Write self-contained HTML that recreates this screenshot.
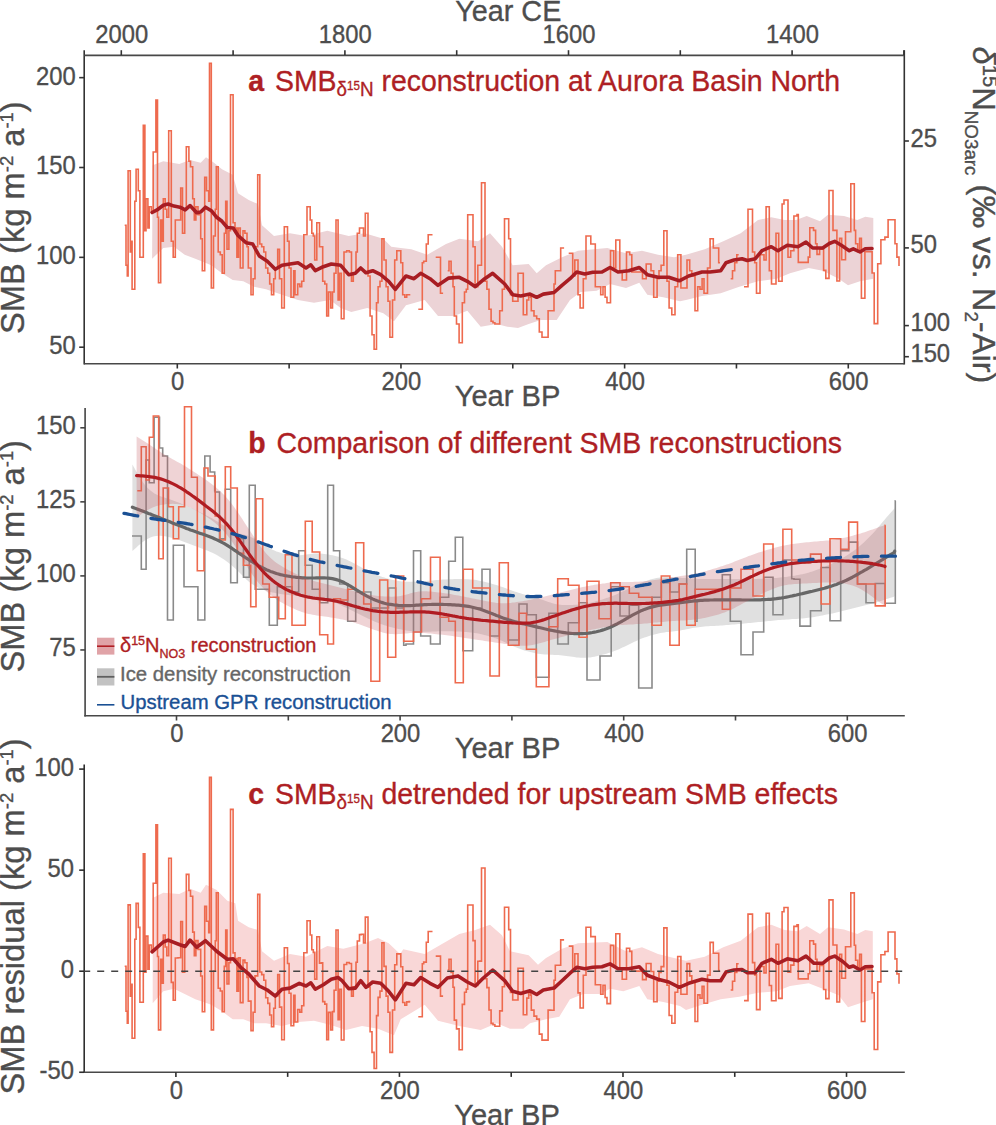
<!DOCTYPE html>
<html><head><meta charset="utf-8"><style>
html,body{margin:0;padding:0;background:#fff;}
svg{display:block;font-family:"Liberation Sans",sans-serif;}
text{stroke-width:0.35px;paint-order:stroke;stroke-linejoin:round;}
</style></head><body>
<svg width="996" height="1125" viewBox="0 0 996 1125">
<rect width="996" height="1125" fill="#fff"/>
<polygon points="152.7,165.3 163.3,161.3 179.3,164.0 190.0,160.0 200.7,162.7 206.0,157.3 214.0,162.7 222.0,169.3 232.7,174.7 238.0,193.3 248.7,200.0 258.0,204.0 262.0,225.3 274.0,236.0 290.0,233.3 306.0,236.0 327.3,230.7 348.7,236.0 364.7,233.3 383.3,238.7 391.3,246.7 400.7,248.0 411.3,249.3 427.3,254.7 446.0,244.0 459.3,238.7 478.0,241.3 490.0,233.3 502.0,246.7 512.7,265.3 528.7,264.0 536.7,273.3 546.0,265.3 562.0,257.3 578.0,250.7 607.3,248.0 626.0,253.3 642.0,250.7 658.0,254.7 674.0,257.3 686.0,254.7 704.7,249.3 723.3,241.3 740.7,233.3 758.0,220.0 771.3,217.3 784.7,220.0 796.0,220.0 806.7,216.0 820.0,221.3 828.0,214.7 844.0,216.0 857.3,220.0 865.3,216.8 873.3,217.9 873.3,278.7 860.0,281.3 848.0,285.3 838.7,278.7 822.7,270.7 808.7,268.0 790.0,273.3 776.7,278.7 758.0,281.3 739.3,286.7 720.7,293.3 702.0,296.0 686.0,300.0 680.0,301.3 663.3,297.3 647.3,294.7 639.3,282.7 626.0,288.0 610.0,284.0 596.7,290.7 580.7,292.0 570.0,300.0 556.7,320.0 540.7,320.0 528.7,324.0 518.0,328.0 507.3,326.7 496.7,324.0 480.7,326.7 467.3,310.7 454.0,316.0 438.0,316.0 424.7,300.0 406.0,305.3 394.0,321.3 383.3,313.3 367.3,308.0 351.3,312.0 340.7,308.0 330.0,300.0 314.0,302.7 298.0,300.0 282.0,294.7 266.0,289.3 254.0,286.7 243.3,281.3 232.7,280.0 222.0,273.3 211.3,265.3 195.3,258.7 184.7,254.7 174.0,246.7 163.3,248.0 152.1,258.7" fill="#ecd3d6" stroke="none" />
<path d="M124.7,225.3H126.0V265.3H127.3V276.0H128.1V170.7H130.3V252.0H131.3V241.3H132.1V289.3H134.8V201.3H136.1V169.3H138.3V190.7H139.9V257.3H142.0V257.3H143.3V125.3H144.9V230.7H146.0V198.7H147.9V228.0H149.2V206.7H151.3V212.0H153.2V152.0H155.9V100.0H157.5V217.3H158.5V282.7H160.7V220.0H162.0V241.3H163.3V198.7H165.2V209.3H166.8V217.3H168.7V130.7H171.3V241.3H173.2V257.3H175.3V220.0H178.0V220.0H180.7V188.0H182.5V233.3H184.7V209.3H186.3V146.7H188.9V161.3H190.5V166.7H192.7V198.7H194.3V220.0H195.9V206.7H198.0V214.7H200.7V238.7H202.3V270.7H204.7V177.3H206.5V190.7H208.7V201.3H209.5V63.2H211.3V288.0H213.5V236.0H215.3V209.3H216.3V166.7H218.2V252.0H220.3V254.7H222.2V273.3H224.3V233.3H225.7V201.3H227.0V249.3H228.9V230.7H230.5V94.7H233.1V222.7H235.0V228.0H236.9V257.3H238.5V228.0H240.3V268.0H243.0V230.7H244.9V233.3H247.0V246.7H248.3V268.0H251.0V294.7H253.1V278.7H255.0V246.7H257.7V174.7H259.8V244.0H261.7V246.7H263.8V252.0H265.7V268.0H267.8V273.3H269.7V284.0H271.5V294.7H273.7V278.7H275.3V268.0H277.7V249.3H279.5V278.7H281.7V308.0H284.3V226.7H287.5V241.3H289.1V268.0H291.0V297.3H293.7V270.7H295.0V294.7H297.7V284.0H299.8V286.7H301.7V281.3H303.8V234.7H307.0V206.7H310.2V220.0H311.8V233.3H313.3V236.0H314.7V260.0H316.8V222.7H319.5V246.7H321.3V246.7H322.7V281.3H324.8V284.0H326.7V316.0H328.5V292.0H330.7V308.0H332.5V292.0H334.1V273.3H336.0V220.0H338.1V300.0H339.5V273.3H341.3V318.7H344.0V252.0H346.7V250.7H349.3V252.0H351.5V281.3H353.3V273.3H356.0V252.0H357.3V233.3H359.5V228.0H361.3V228.0H363.5V236.0H365.3V213.3H368.0V276.0H370.1V316.0H372.0V334.7H374.1V349.3H376.5V302.7H378.1V286.7H380.0V281.3H381.9V238.7H384.0V260.0H386.1V286.7H388.0V301.3H389.9V337.3H392.5V300.0H394.7V260.0H396.8V250.7H400.8V262.7H402.7V294.7H404.8V297.3H406.7V294.7H409.0V294.7H410.3M418.3,309.3H422.3V262.7H423.7V261.3H426.3V244.0H428.2V234.7H432.5M435.7,257.3H440.5V293.3H443.1M447.7,270.7H449.0V261.3H451.1V273.3H453.0V286.7H454.3V316.0H456.5V324.0H459.1V342.7H462.3V302.7H464.5V292.0H466.3V289.3H467.7V214.7H473.0V246.7H475.1V286.7H477.8V265.3H479.7V265.3H481.5V182.7H485.0V281.3H486.9V289.3H489.0V309.3H491.1V321.3H493.0V322.7H494.9V324.0H499.7V310.7H502.3V289.3H504.5V218.7H506.8V218.7H508.7V238.7H510.5V294.7H512.7V301.3H518.0V273.3H523.3V314.7H526.8V300.0H528.7V294.7H530.5V297.3H531.3V310.7H534.0V316.0H536.7V318.7H539.3V332.0H542.0V337.3H548.1V310.7H550.8V310.7H554.0V284.0H555.3V270.7H558.0V270.7H560.7V248.0H564.1M568.7,253.3H572.7V276.0H574.8V260.0H578.0V294.7H580.1V308.0H583.3V278.7H586.0V236.0H590.8V244.0H595.3V286.7H600.7V294.7H603.0V286.7H605.1V297.3H607.0V302.7H610.5V250.7H613.7V268.0H615.8V240.0H619.8V270.7H622.2V280.0H626.5V252.0H629.7V254.7H631.8V272.0H642.5V278.7H646.2V264.0H651.0V270.7H653.7V297.3H657.1V278.7H659.0V270.7H661.1V265.3H663.8V230.7H667.0V281.3H669.1V308.0H671.8V314.7H675.0V286.7H677.7V254.7H680.9V288.0H687.0V260.0H689.7V270.7H691.8V276.0H695.0V310.7H697.7V286.7H700.0V289.3H702.1V278.7H704.0V293.3H707.5V268.0H710.1V238.7H713.3V248.0H718.7V262.7H720.0M730.7,278.7H732.5V270.7H734.7V262.7H736.8V254.7H738.7M744.0,286.7H748.0V209.3H752.5V252.0H754.7V262.7H756.5V293.3H760.0V254.7H764.0V260.0H766.1V206.7H769.3V270.7H771.5V284.0H776.0V233.3H778.7V281.3H782.1V204.0H784.0V200.0H788.0V257.3H790.7V250.7H793.9V216.0H797.0V214.5H798.3V262.4H808.2V257.1H809.8V227.8H813.5V230.4H815.6V243.8H817.0V254.4H819.6V249.1H823.6V270.4H825.8V278.4H829.0V190.5H833.0V230.4H836.9V281.0H839.6V238.4H841.7V259.7H845.5V231.8H850.8V183.8H854.3V230.4H855.6V243.8H857.7V251.7H859.6V238.4H861.4V298.3H864.9V251.7H872.1V273.0H874.2V323.6H877.7V263.7H880.9V239.8H884.9V237.1H888.1V219.8H895.0V243.8H896.9V257.1H899.0V265.1H899.8" fill="none" stroke="#ee6a4e" stroke-width="1.6"/>
<polyline points="152.1,212.5 158.0,209.3 163.3,205.3 168.1,204.0 174.0,206.1 179.9,207.2 185.2,209.9 190.0,205.6 196.7,212.8 200.7,212.0 205.5,207.2 211.3,210.7 216.7,217.3 222.0,221.3 227.3,227.5 233.2,228.0 238.0,235.5 246.0,242.7 252.7,244.0 259.3,256.0 267.3,261.3 275.3,269.3 282.0,265.3 290.0,264.0 298.0,262.7 306.0,268.0 310.8,264.8 315.3,270.7 323.3,266.7 331.3,264.0 340.7,265.3 348.7,274.7 355.3,273.3 360.7,268.0 366.0,272.8 372.7,270.7 380.7,274.7 388.7,281.3 395.3,289.3 406.0,276.0 414.0,278.7 420.7,273.3 430.0,278.7 438.0,285.3 448.7,278.1 459.3,277.3 467.3,281.3 475.3,286.7 484.7,278.7 492.7,273.3 504.7,284.0 512.7,294.7 520.7,296.0 530.0,294.1 536.7,297.3 543.3,294.1 554.0,292.5 562.0,285.3 570.0,278.7 576.7,272.0 584.7,273.9 592.7,272.3 602.0,272.0 610.0,267.5 618.0,272.0 628.7,270.7 639.3,267.5 647.3,274.7 658.0,277.3 668.7,277.3 679.3,280.8 688.7,276.0 702.0,272.0 710.0,272.0 720.7,270.7 726.0,262.7 734.0,260.0 742.0,258.7 747.3,260.5 755.3,258.7 762.0,250.7 771.3,246.7 778.0,250.7 787.3,245.3 798.0,246.7 806.0,242.1 812.7,248.0 822.7,248.0 829.3,243.5 834.7,241.3 841.3,245.3 849.3,250.7 853.3,248.8 860.0,252.0 865.3,248.8 872.0,248.5" fill="none" stroke="#a81d23" stroke-width="3.6" stroke-linejoin="round" stroke-linecap="round" />
<polygon points="132.4,464.4 134.4,468.1 136.4,471.8 138.4,475.3 140.4,478.6 142.4,481.6 144.4,484.3 146.4,486.7 148.4,488.8 150.4,490.6 152.4,492.1 154.4,493.4 156.4,494.5 158.4,495.4 160.4,496.2 162.4,496.9 164.4,497.6 166.4,498.2 168.4,498.8 170.4,499.5 172.4,500.2 174.4,500.9 176.4,501.7 178.4,502.5 180.4,503.3 182.4,504.2 184.4,505.0 186.4,505.9 188.4,506.8 190.4,507.7 192.4,508.6 194.4,509.5 196.4,510.5 198.4,511.4 200.4,512.4 202.4,513.4 204.4,514.4 206.4,515.4 208.4,516.4 210.4,517.5 212.4,518.6 214.4,519.7 216.4,520.9 218.4,522.1 220.4,523.4 222.4,524.7 224.4,526.0 226.4,527.3 228.4,528.6 230.4,529.7 232.4,530.8 234.4,531.7 236.4,532.5 238.4,533.2 240.4,533.7 242.4,534.2 244.4,534.7 246.4,535.3 248.4,535.9 250.4,536.7 252.4,537.7 254.4,538.8 256.4,540.1 258.4,541.4 260.4,542.8 262.4,544.2 264.4,545.5 266.4,546.7 268.4,547.8 270.4,548.8 272.4,549.8 274.4,550.6 276.4,551.4 278.4,552.1 280.4,552.7 282.4,553.4 284.4,553.9 286.4,554.4 288.4,554.9 290.4,555.2 292.4,555.4 294.4,555.5 296.4,555.5 298.4,555.4 300.4,555.3 302.4,555.0 304.4,554.8 306.4,554.5 308.4,554.3 310.4,554.0 312.4,553.8 314.4,553.6 316.4,553.5 318.4,553.5 320.4,553.5 322.4,553.7 324.4,553.9 326.4,554.2 328.4,554.5 330.4,554.9 332.4,555.3 334.4,555.8 336.4,556.3 338.4,556.8 340.4,557.4 342.4,558.1 344.4,558.8 346.4,559.6 348.4,560.5 350.4,561.5 352.4,562.5 354.4,563.5 356.4,564.6 358.4,565.7 360.4,566.8 362.4,567.9 364.4,569.0 366.4,570.0 368.4,571.0 370.4,572.0 372.4,573.0 374.4,573.9 376.4,574.7 378.4,575.5 380.4,576.3 382.4,577.0 384.4,577.6 386.4,578.2 388.4,578.8 390.4,579.3 392.4,579.8 394.4,580.2 396.4,580.6 398.4,580.9 400.4,581.2 402.4,581.4 404.4,581.6 406.4,581.7 408.4,581.8 410.4,581.8 412.4,581.8 414.4,581.8 416.4,581.7 418.4,581.6 420.4,581.5 422.4,581.3 424.4,581.2 426.4,581.0 428.4,580.8 430.4,580.7 432.4,580.5 434.4,580.3 436.4,580.1 438.4,579.9 440.4,579.7 442.4,579.6 444.4,579.5 446.4,579.4 448.4,579.3 450.4,579.2 452.4,579.2 454.4,579.1 456.4,579.1 458.4,579.1 460.4,579.1 462.4,579.1 464.4,579.2 466.4,579.2 468.4,579.3 470.4,579.4 472.4,579.6 474.4,579.8 476.4,580.1 478.4,580.5 480.4,580.9 482.4,581.3 484.4,581.8 486.4,582.3 488.4,582.8 490.4,583.3 492.4,583.9 494.4,584.4 496.4,585.0 498.4,585.7 500.4,586.4 502.4,587.1 504.4,587.8 506.4,588.5 508.4,589.2 510.4,589.9 512.4,590.7 514.4,591.4 516.4,592.0 518.4,592.7 520.4,593.3 522.4,593.9 524.4,594.5 526.4,595.1 528.4,595.6 530.4,596.2 532.4,596.8 534.4,597.3 536.4,597.9 538.4,598.5 540.4,599.2 542.4,599.8 544.4,600.5 546.4,601.2 548.4,601.9 550.4,602.6 552.4,603.2 554.4,603.7 556.4,604.2 558.4,604.6 560.4,604.8 562.4,605.0 564.4,605.1 566.4,605.1 568.4,605.1 570.4,605.0 572.4,604.9 574.4,604.8 576.4,604.7 578.4,604.6 580.4,604.4 582.4,604.1 584.4,603.9 586.4,603.5 588.4,603.1 590.4,602.7 592.4,602.2 594.4,601.7 596.4,601.1 598.4,600.6 600.4,600.0 602.4,599.4 604.4,598.7 606.4,598.1 608.4,597.4 610.4,596.7 612.4,596.0 614.4,595.2 616.4,594.4 618.4,593.5 620.4,592.6 622.4,591.6 624.4,590.7 626.4,589.7 628.4,588.7 630.4,587.7 632.4,586.8 634.4,585.8 636.4,584.9 638.4,584.0 640.4,583.1 642.4,582.3 644.4,581.6 646.4,580.9 648.4,580.2 650.4,579.6 652.4,579.1 654.4,578.6 656.4,578.1 658.4,577.7 660.4,577.4 662.4,577.2 664.4,577.1 666.4,577.0 668.4,577.0 670.4,577.1 672.4,577.2 674.4,577.3 676.4,577.5 678.4,577.6 680.4,577.8 682.4,577.9 684.4,578.1 686.4,578.2 688.4,578.3 690.4,578.5 692.4,578.6 694.4,578.7 696.4,578.8 698.4,578.9 700.4,579.0 702.4,579.0 704.4,579.0 706.4,579.1 708.4,579.1 710.4,579.1 712.4,579.1 714.4,579.1 716.4,579.1 718.4,579.1 720.4,579.1 722.4,579.1 724.4,579.1 726.4,579.1 728.4,579.1 730.4,579.1 732.4,579.1 734.4,579.1 736.4,579.1 738.4,579.1 740.4,579.1 742.4,579.1 744.4,579.1 746.4,579.1 748.4,579.1 750.4,579.0 752.4,579.0 754.4,579.0 756.4,578.9 758.4,578.8 760.4,578.7 762.4,578.7 764.4,578.6 766.4,578.5 768.4,578.4 770.4,578.3 772.4,578.2 774.4,578.0 776.4,577.9 778.4,577.7 780.4,577.6 782.4,577.3 784.4,577.1 786.4,576.9 788.4,576.6 790.4,576.3 792.4,576.0 794.4,575.7 796.4,575.3 798.4,575.0 800.4,574.6 802.4,574.2 804.4,573.8 806.4,573.3 808.4,572.7 810.4,572.1 812.4,571.5 814.4,570.8 816.4,570.1 818.4,569.3 820.4,568.5 822.4,567.7 824.4,566.9 826.4,566.1 828.4,565.2 830.4,564.4 832.4,563.4 834.4,562.5 836.4,561.5 838.4,560.4 840.4,559.3 842.4,558.1 844.4,556.9 846.4,555.7 848.4,554.4 850.4,553.1 852.4,551.8 854.4,550.3 856.4,548.9 858.4,547.3 860.4,545.6 862.4,543.8 864.4,542.0 866.4,540.1 868.4,538.1 870.4,536.0 872.4,533.9 874.4,531.7 876.4,529.4 878.4,527.1 880.4,524.7 882.4,522.3 884.4,519.9 886.4,517.5 888.4,515.2 890.4,512.9 892.4,510.7 894.4,508.5 894.7,506.4 894.7,595.9 894.4,596.5 892.4,597.2 890.4,597.8 888.4,598.5 886.4,599.1 884.4,599.8 882.4,600.5 880.4,601.1 878.4,601.7 876.4,602.3 874.4,602.9 872.4,603.5 870.4,604.0 868.4,604.6 866.4,605.1 864.4,605.6 862.4,606.1 860.4,606.6 858.4,607.1 856.4,607.6 854.4,608.1 852.4,608.6 850.4,609.1 848.4,609.6 846.4,610.1 844.4,610.6 842.4,611.1 840.4,611.5 838.4,612.0 836.4,612.5 834.4,612.9 832.4,613.4 830.4,613.8 828.4,614.2 826.4,614.6 824.4,615.0 822.4,615.4 820.4,615.8 818.4,616.2 816.4,616.6 814.4,616.9 812.4,617.3 810.4,617.6 808.4,617.8 806.4,618.1 804.4,618.3 802.4,618.5 800.4,618.6 798.4,618.8 796.4,618.9 794.4,619.0 792.4,619.1 790.4,619.3 788.4,619.4 786.4,619.5 784.4,619.7 782.4,619.8 780.4,620.0 778.4,620.1 776.4,620.3 774.4,620.5 772.4,620.7 770.4,620.9 768.4,621.1 766.4,621.3 764.4,621.5 762.4,621.7 760.4,621.9 758.4,622.1 756.4,622.3 754.4,622.5 752.4,622.7 750.4,622.9 748.4,623.1 746.4,623.3 744.4,623.5 742.4,623.7 740.4,623.9 738.4,624.1 736.4,624.3 734.4,624.4 732.4,624.6 730.4,624.8 728.4,625.0 726.4,625.1 724.4,625.3 722.4,625.4 720.4,625.5 718.4,625.7 716.4,625.8 714.4,625.9 712.4,626.0 710.4,626.1 708.4,626.2 706.4,626.3 704.4,626.5 702.4,626.7 700.4,626.9 698.4,627.2 696.4,627.4 694.4,627.8 692.4,628.1 690.4,628.5 688.4,628.9 686.4,629.3 684.4,629.7 682.4,630.1 680.4,630.4 678.4,630.7 676.4,631.0 674.4,631.2 672.4,631.4 670.4,631.7 668.4,631.9 666.4,632.1 664.4,632.4 662.4,632.7 660.4,633.1 658.4,633.5 656.4,634.0 654.4,634.5 652.4,635.0 650.4,635.6 648.4,636.2 646.4,636.9 644.4,637.6 642.4,638.3 640.4,639.1 638.4,640.0 636.4,640.9 634.4,641.8 632.4,642.8 630.4,643.7 628.4,644.7 626.4,645.7 624.4,646.7 622.4,647.6 620.4,648.5 618.4,649.4 616.4,650.3 614.4,651.1 612.4,651.8 610.4,652.5 608.4,653.1 606.4,653.7 604.4,654.2 602.4,654.8 600.4,655.3 598.4,655.8 596.4,656.2 594.4,656.7 592.4,657.0 590.4,657.4 588.4,657.6 586.4,657.8 584.4,657.8 582.4,657.8 580.4,657.7 578.4,657.6 576.4,657.4 574.4,657.1 572.4,656.8 570.4,656.6 568.4,656.3 566.4,656.0 564.4,655.8 562.4,655.5 560.4,655.3 558.4,655.1 556.4,655.0 554.4,654.9 552.4,654.8 550.4,654.7 548.4,654.6 546.4,654.5 544.4,654.4 542.4,654.2 540.4,654.0 538.4,653.7 536.4,653.4 534.4,653.0 532.4,652.6 530.4,652.1 528.4,651.6 526.4,651.0 524.4,650.4 522.4,649.8 520.4,649.1 518.4,648.3 516.4,647.5 514.4,646.7 512.4,645.8 510.4,644.9 508.4,643.9 506.4,643.0 504.4,642.0 502.4,641.1 500.4,640.2 498.4,639.4 496.4,638.6 494.4,637.9 492.4,637.2 490.4,636.6 488.4,636.0 486.4,635.5 484.4,635.0 482.4,634.5 480.4,634.0 478.4,633.6 476.4,633.2 474.4,632.9 472.4,632.6 470.4,632.4 468.4,632.2 466.4,632.0 464.4,631.9 462.4,631.7 460.4,631.6 458.4,631.5 456.4,631.4 454.4,631.4 452.4,631.3 450.4,631.2 448.4,631.2 446.4,631.2 444.4,631.2 442.4,631.2 440.4,631.3 438.4,631.3 436.4,631.4 434.4,631.5 432.4,631.6 430.4,631.7 428.4,631.7 426.4,631.8 424.4,631.8 422.4,631.9 420.4,631.8 418.4,631.8 416.4,631.6 414.4,631.5 412.4,631.3 410.4,631.0 408.4,630.7 406.4,630.4 404.4,630.1 402.4,629.7 400.4,629.3 398.4,628.9 396.4,628.4 394.4,627.9 392.4,627.4 390.4,626.9 388.4,626.4 386.4,625.8 384.4,625.2 382.4,624.6 380.4,623.9 378.4,623.1 376.4,622.3 374.4,621.5 372.4,620.6 370.4,619.6 368.4,618.7 366.4,617.7 364.4,616.7 362.4,615.7 360.4,614.7 358.4,613.7 356.4,612.7 354.4,611.7 352.4,610.7 350.4,609.8 348.4,608.8 346.4,607.8 344.4,606.9 342.4,605.9 340.4,605.0 338.4,604.1 336.4,603.2 334.4,602.3 332.4,601.5 330.4,600.6 328.4,599.8 326.4,599.0 324.4,598.3 322.4,597.7 320.4,597.2 318.4,596.8 316.4,596.5 314.4,596.3 312.4,596.1 310.4,596.0 308.4,596.0 306.4,595.9 304.4,595.9 302.4,595.9 300.4,595.8 298.4,595.8 296.4,595.7 294.4,595.6 292.4,595.5 290.4,595.3 288.4,595.1 286.4,594.8 284.4,594.6 282.4,594.3 280.4,593.9 278.4,593.6 276.4,593.2 274.4,592.8 272.4,592.4 270.4,592.0 268.4,591.5 266.4,590.9 264.4,590.2 262.4,589.5 260.4,588.7 258.4,587.8 256.4,586.8 254.4,585.6 252.4,584.3 250.4,582.9 248.4,581.2 246.4,579.4 244.4,577.5 242.4,575.5 240.4,573.5 238.4,571.5 236.4,569.6 234.4,567.7 232.4,566.0 230.4,564.3 228.4,562.7 226.4,561.2 224.4,559.8 222.4,558.5 220.4,557.2 218.4,556.0 216.4,554.8 214.4,553.8 212.4,552.8 210.4,551.9 208.4,551.0 206.4,550.2 204.4,549.4 202.4,548.7 200.4,547.9 198.4,547.2 196.4,546.4 194.4,545.7 192.4,544.9 190.4,544.2 188.4,543.4 186.4,542.7 184.4,541.9 182.4,541.2 180.4,540.5 178.4,539.8 176.4,539.1 174.4,538.5 172.4,537.9 170.4,537.4 168.4,536.9 166.4,536.5 164.4,536.2 162.4,535.9 160.4,535.8 158.4,535.8 156.4,536.0 154.4,536.3 152.4,536.8 150.4,537.5 148.4,538.4 146.4,539.5 144.4,540.8 142.4,542.3 140.4,543.9 138.4,545.6 136.4,547.4 134.4,549.2 132.4,551.1" fill="#a8a8a8" stroke="none" fill-opacity="0.36"/>
<path d="M132.0,536.0H141.3V569.3H146.1V460.0H149.3V482.7H154.1V417.3H159.5V448.0H162.7V456.0H167.5V620.0H173.3V545.3H184.0V586.7H197.9V620.0H204.8V456.0H210.1V472.0H214.7V490.7H215.2V492.0H219.5V538.7H225.3V489.3H230.7V582.7H237.3V538.7H243.5V577.3H249.3V485.3H255.2V589.3H269.3V625.3H277.3V586.7H292.0V592.0H298.7V550.7H305.3V565.3H309.0V565.3H312.2V589.3H319.7V602.7H327.7V485.3H333.5V550.7H339.7V584.0H347.7V621.3H355.7V592.0H370.9V608.0H388.5V588.0H395.7V608.0H403.7V645.3H406.0V644.0H413.5V550.7H420.7V636.0H430.5V644.0H440.1V597.3H448.7V561.3H455.3V537.3H462.8V650.7H472.7V608.0H482.0V569.3H490.0V636.0H499.3V594.7H503.0V594.7H508.3V640.0H519.0V604.0H527.0V614.7H536.3V677.3H548.9V613.3H557.7V644.0H568.3V622.7H579.0V602.7H587.0V680.0H600.0V656.0H611.2V586.7H620.0V616.0H629.3V605.3H638.7V688.0H652.0V597.3H661.3V582.7H669.9V592.0H679.2V584.0H686.7V549.3H695.2V621.3H697.0V600.0H722.3V574.7H730.3V621.3H741.0V654.7H753.0V632.0H763.7V577.3H773.0V614.7H782.9V560.0H791.7V578.7H794.0V579.2H799.9V626.1H810.5V610.7H821.2V567.5H830.0V620.8H840.7V550.7H848.7V542.1H857.5V584.0H866.0V602.7H875.3V583.5H885.2V603.2H895.3V500.8H895.6" fill="none" stroke="#8a8a8a" stroke-width="1.6"/>
<path d="M137.3,490.7H141.3V446.7H146.1V480.0H149.3V437.3H153.3V416.0H158.7V558.7H163.2V488.0H168.5V506.7H173.3V538.7H178.7V506.7H184.5V406.7H191.5V477.3H197.3V570.7H204.0V468.0H208.0V476.0H212.0V476.0H215.2V516.0H220.0V540.0H225.3V466.7H230.7V488.0H237.3V553.3H243.5V565.3H250.7V606.7H256.0V498.7H262.7V584.0H269.3V597.3H278.7V618.7H285.3V554.7H292.0V625.3H305.3V521.3H309.0V521.3H312.2V552.0H319.7V634.7H327.7V644.0H333.5V598.7H340.5V600.0H347.7V589.3H355.7V542.7H363.7V604.0H370.9V681.3H379.7V580.0H387.7V657.3H395.7V576.0H403.7V641.3H406.0V641.3H413.5V632.0H421.5V598.7H430.5V557.3H440.1V617.3H448.7V621.3H455.3V682.7H463.3V569.3H472.7V588.0H483.3V588.0H490.0V676.0H499.3V562.7H503.0V562.7H508.3V645.3H519.0V613.3H526.5V649.3H536.3V686.7H548.9V626.7H557.7V578.7H568.3V585.3H579.0V637.3H587.0V581.3H599.0V618.7H600.0V618.7H610.7V582.7H620.0V586.7H629.3V593.3H638.7V597.3H652.0V625.3H661.3V576.0H669.9V645.3H679.2V584.0H686.7V625.3H695.2V589.3H697.0V589.3H722.3V609.3H730.3V588.0H741.0V569.3H753.0V596.0H763.7V544.0H773.0V562.7H782.9V529.3H791.7V560.0H794.0V560.0H800.7V562.7H810.5V554.1H821.2V604.0H830.0V538.7H840.7V549.3H848.7V522.1H857.5V584.0H866.0V584.0H875.3V605.9H885.2V525.3H885.5" fill="none" stroke="#ee6a4e" stroke-width="1.6"/>
<polyline points="132.4,507.2 134.4,508.0 136.4,508.7 138.4,509.5 140.4,510.3 142.4,511.0 144.4,511.8 146.4,512.6 148.4,513.4 150.4,514.1 152.4,514.9 154.4,515.7 156.4,516.5 158.4,517.3 160.4,518.1 162.4,518.9 164.4,519.7 166.4,520.5 168.4,521.3 170.4,522.1 172.4,522.9 174.4,523.7 176.4,524.5 178.4,525.2 180.4,526.0 182.4,526.8 184.4,527.6 186.4,528.4 188.4,529.1 190.4,529.9 192.4,530.6 194.4,531.3 196.4,532.0 198.4,532.7 200.4,533.4 202.4,534.1 204.4,534.8 206.4,535.5 208.4,536.2 210.4,537.0 212.4,537.8 214.4,538.7 216.4,539.6 218.4,540.5 220.4,541.5 222.4,542.6 224.4,543.7 226.4,544.9 228.4,546.2 230.4,547.4 232.4,548.7 234.4,550.1 236.4,551.4 238.4,552.8 240.4,554.1 242.4,555.5 244.4,556.8 246.4,558.2 248.4,559.5 250.4,560.8 252.4,562.0 254.4,563.2 256.4,564.4 258.4,565.6 260.4,566.7 262.4,567.7 264.4,568.7 266.4,569.7 268.4,570.5 270.4,571.4 272.4,572.1 274.4,572.8 276.4,573.5 278.4,574.0 280.4,574.6 282.4,575.0 284.4,575.5 286.4,575.8 288.4,576.2 290.4,576.5 292.4,576.8 294.4,577.0 296.4,577.3 298.4,577.5 300.4,577.6 302.4,577.8 304.4,577.9 306.4,578.0 308.4,578.0 310.4,578.0 312.4,578.0 314.4,578.0 316.4,577.9 318.4,577.9 320.4,577.9 322.4,577.8 324.4,577.9 326.4,578.0 328.4,578.1 330.4,578.3 332.4,578.6 334.4,579.1 336.4,579.6 338.4,580.2 340.4,581.0 342.4,581.8 344.4,582.8 346.4,583.9 348.4,585.0 350.4,586.2 352.4,587.4 354.4,588.6 356.4,589.9 358.4,591.1 360.4,592.4 362.4,593.6 364.4,594.7 366.4,595.9 368.4,596.9 370.4,597.9 372.4,598.9 374.4,599.8 376.4,600.6 378.4,601.3 380.4,602.0 382.4,602.6 384.4,603.2 386.4,603.7 388.4,604.1 390.4,604.4 392.4,604.7 394.4,605.0 396.4,605.2 398.4,605.4 400.4,605.5 402.4,605.6 404.4,605.6 406.4,605.7 408.4,605.6 410.4,605.6 412.4,605.5 414.4,605.4 416.4,605.2 418.4,605.1 420.4,604.9 422.4,604.8 424.4,604.7 426.4,604.6 428.4,604.5 430.4,604.5 432.4,604.4 434.4,604.4 436.4,604.4 438.4,604.4 440.4,604.4 442.4,604.4 444.4,604.5 446.4,604.5 448.4,604.6 450.4,604.7 452.4,604.8 454.4,604.9 456.4,605.1 458.4,605.2 460.4,605.4 462.4,605.6 464.4,605.8 466.4,606.1 468.4,606.4 470.4,606.8 472.4,607.2 474.4,607.7 476.4,608.2 478.4,608.7 480.4,609.3 482.4,610.0 484.4,610.7 486.4,611.4 488.4,612.2 490.4,613.0 492.4,613.7 494.4,614.6 496.4,615.4 498.4,616.1 500.4,616.9 502.4,617.7 504.4,618.4 506.4,619.1 508.4,619.8 510.4,620.4 512.4,621.0 514.4,621.6 516.4,622.1 518.4,622.6 520.4,623.1 522.4,623.6 524.4,624.0 526.4,624.5 528.4,625.0 530.4,625.5 532.4,625.9 534.4,626.4 536.4,626.9 538.4,627.4 540.4,627.8 542.4,628.3 544.4,628.8 546.4,629.2 548.4,629.7 550.4,630.1 552.4,630.5 554.4,630.9 556.4,631.3 558.4,631.7 560.4,632.0 562.4,632.3 564.4,632.6 566.4,632.9 568.4,633.1 570.4,633.3 572.4,633.5 574.4,633.6 576.4,633.7 578.4,633.7 580.4,633.7 582.4,633.6 584.4,633.5 586.4,633.3 588.4,633.1 590.4,632.8 592.4,632.5 594.4,632.1 596.4,631.7 598.4,631.2 600.4,630.7 602.4,630.1 604.4,629.5 606.4,628.8 608.4,628.0 610.4,627.2 612.4,626.3 614.4,625.3 616.4,624.3 618.4,623.2 620.4,622.1 622.4,621.0 624.4,619.8 626.4,618.6 628.4,617.5 630.4,616.3 632.4,615.2 634.4,614.1 636.4,613.1 638.4,612.1 640.4,611.1 642.4,610.3 644.4,609.4 646.4,608.7 648.4,608.0 650.4,607.4 652.4,606.9 654.4,606.4 656.4,605.9 658.4,605.5 660.4,605.2 662.4,604.9 664.4,604.6 666.4,604.3 668.4,604.1 670.4,603.8 672.4,603.6 674.4,603.3 676.4,603.1 678.4,602.9 680.4,602.6 682.4,602.4 684.4,602.1 686.4,601.9 688.4,601.6 690.4,601.4 692.4,601.2 694.4,600.9 696.4,600.8 698.4,600.6 700.4,600.4 702.4,600.3 704.4,600.2 706.4,600.1 708.4,600.1 710.4,600.0 712.4,600.0 714.4,599.9 716.4,599.9 718.4,599.9 720.4,599.9 722.4,599.9 724.4,599.9 726.4,599.9 728.4,599.9 730.4,599.9 732.4,599.9 734.4,599.9 736.4,599.9 738.4,599.9 740.4,599.9 742.4,600.0 744.4,600.0 746.4,600.0 748.4,600.0 750.4,600.0 752.4,600.0 754.4,599.9 756.4,599.9 758.4,599.9 760.4,599.8 762.4,599.7 764.4,599.6 766.4,599.5 768.4,599.4 770.4,599.3 772.4,599.1 774.4,598.9 776.4,598.7 778.4,598.4 780.4,598.2 782.4,597.8 784.4,597.5 786.4,597.1 788.4,596.7 790.4,596.3 792.4,595.9 794.4,595.4 796.4,595.0 798.4,594.5 800.4,594.0 802.4,593.6 804.4,593.1 806.4,592.6 808.4,592.1 810.4,591.6 812.4,591.2 814.4,590.7 816.4,590.2 818.4,589.7 820.4,589.2 822.4,588.7 824.4,588.2 826.4,587.6 828.4,587.0 830.4,586.4 832.4,585.8 834.4,585.1 836.4,584.4 838.4,583.6 840.4,582.8 842.4,582.0 844.4,581.1 846.4,580.2 848.4,579.2 850.4,578.2 852.4,577.2 854.4,576.1 856.4,575.0 858.4,573.9 860.4,572.7 862.4,571.6 864.4,570.4 866.4,569.3 868.4,568.1 870.4,566.9 872.4,565.7 874.4,564.5 876.4,563.3 878.4,562.0 880.4,560.8 882.4,559.6 884.4,558.3 886.4,557.1 888.4,555.9 890.4,554.7 892.4,553.5 894.4,552.3 894.7,551.1" fill="none" stroke="#676767" stroke-width="3.2" stroke-linejoin="round" stroke-linecap="round" />
<polygon points="136.6,436.4 138.6,437.7 140.6,439.0 142.6,440.2 144.6,441.5 146.6,442.8 148.6,444.1 150.6,445.4 152.6,446.8 154.6,448.1 156.6,449.4 158.6,450.8 160.6,452.1 162.6,453.4 164.6,454.6 166.6,455.8 168.6,457.0 170.6,458.1 172.6,459.2 174.6,460.3 176.6,461.4 178.6,462.5 180.6,463.6 182.6,464.7 184.6,465.9 186.6,467.1 188.6,468.4 190.6,469.7 192.6,471.0 194.6,472.3 196.6,473.6 198.6,474.9 200.6,476.3 202.6,477.6 204.6,479.0 206.6,480.3 208.6,481.8 210.6,483.2 212.6,484.7 214.6,486.3 216.6,487.9 218.6,489.7 220.6,491.5 222.6,493.5 224.6,495.6 226.6,497.8 228.6,500.1 230.6,502.6 232.6,505.1 234.6,507.8 236.6,510.7 238.6,513.6 240.6,516.6 242.6,519.6 244.6,522.7 246.6,525.7 248.6,528.8 250.6,531.8 252.6,534.8 254.6,537.8 256.6,540.7 258.6,543.6 260.6,546.4 262.6,549.0 264.6,551.6 266.6,553.9 268.6,556.1 270.6,558.0 272.6,559.8 274.6,561.4 276.6,562.9 278.6,564.3 280.6,565.6 282.6,566.8 284.6,568.0 286.6,569.1 288.6,570.2 290.6,571.3 292.6,572.3 294.6,573.3 296.6,574.3 298.6,575.3 300.6,576.2 302.6,577.1 304.6,577.9 306.6,578.6 308.6,579.3 310.6,580.0 312.6,580.6 314.6,581.2 316.6,581.7 318.6,582.2 320.6,582.7 322.6,583.2 324.6,583.7 326.6,584.3 328.6,584.8 330.6,585.3 332.6,585.8 334.6,586.3 336.6,586.8 338.6,587.3 340.6,587.8 342.6,588.3 344.6,588.8 346.6,589.3 348.6,589.8 350.6,590.3 352.6,590.8 354.6,591.3 356.6,591.8 358.6,592.3 360.6,592.7 362.6,593.2 364.6,593.7 366.6,594.1 368.6,594.6 370.6,594.9 372.6,595.3 374.6,595.6 376.6,595.8 378.6,596.0 380.6,596.2 382.6,596.3 384.6,596.5 386.6,596.6 388.6,596.6 390.6,596.7 392.6,596.7 394.6,596.6 396.6,596.5 398.6,596.3 400.6,596.0 402.6,595.6 404.6,595.1 406.6,594.5 408.6,593.9 410.6,593.3 412.6,592.8 414.6,592.3 416.6,591.9 418.6,591.6 420.6,591.4 422.6,591.3 424.6,591.3 426.6,591.3 428.6,591.5 430.6,591.6 432.6,591.8 434.6,592.0 436.6,592.2 438.6,592.4 440.6,592.6 442.6,592.9 444.6,593.2 446.6,593.5 448.6,593.8 450.6,594.1 452.6,594.5 454.6,594.9 456.6,595.2 458.6,595.6 460.6,596.0 462.6,596.4 464.6,596.8 466.6,597.2 468.6,597.6 470.6,598.0 472.6,598.4 474.6,598.8 476.6,599.2 478.6,599.6 480.6,600.0 482.6,600.4 484.6,600.8 486.6,601.2 488.6,601.6 490.6,602.0 492.6,602.3 494.6,602.6 496.6,602.9 498.6,603.1 500.6,603.3 502.6,603.3 504.6,603.3 506.6,603.2 508.6,603.1 510.6,602.9 512.6,602.6 514.6,602.4 516.6,602.1 518.6,601.8 520.6,601.5 522.6,601.2 524.6,600.8 526.6,600.5 528.6,600.1 530.6,599.7 532.6,599.3 534.6,598.8 536.6,598.4 538.6,597.9 540.6,597.4 542.6,596.9 544.6,596.4 546.6,595.9 548.6,595.4 550.6,595.0 552.6,594.5 554.6,594.0 556.6,593.5 558.6,593.0 560.6,592.5 562.6,592.0 564.6,591.5 566.6,591.0 568.6,590.5 570.6,590.0 572.6,589.5 574.6,589.0 576.6,588.5 578.6,588.0 580.6,587.5 582.6,587.1 584.6,586.7 586.6,586.3 588.6,585.9 590.6,585.5 592.6,585.2 594.6,584.8 596.6,584.5 598.6,584.2 600.6,583.9 602.6,583.6 604.6,583.4 606.6,583.1 608.6,582.8 610.6,582.6 612.6,582.4 614.6,582.3 616.6,582.1 618.6,582.1 620.6,582.0 622.6,582.0 624.6,581.9 626.6,581.9 628.6,581.9 630.6,581.9 632.6,581.9 634.6,581.8 636.6,581.8 638.6,581.7 640.6,581.6 642.6,581.4 644.6,581.3 646.6,581.1 648.6,580.8 650.6,580.6 652.6,580.3 654.6,580.0 656.6,579.7 658.6,579.4 660.6,579.1 662.6,578.8 664.6,578.5 666.6,578.2 668.6,577.9 670.6,577.6 672.6,577.3 674.6,577.0 676.6,576.7 678.6,576.4 680.6,576.1 682.6,575.8 684.6,575.5 686.6,575.2 688.6,574.9 690.6,574.5 692.6,574.2 694.6,573.8 696.6,573.4 698.6,572.9 700.6,572.5 702.6,572.0 704.6,571.4 706.6,570.9 708.6,570.3 710.6,569.7 712.6,569.1 714.6,568.5 716.6,567.9 718.6,567.3 720.6,566.6 722.6,566.0 724.6,565.3 726.6,564.6 728.6,563.9 730.6,563.2 732.6,562.4 734.6,561.6 736.6,560.8 738.6,560.1 740.6,559.3 742.6,558.5 744.6,557.7 746.6,556.9 748.6,556.1 750.6,555.4 752.6,554.7 754.6,554.0 756.6,553.3 758.6,552.6 760.6,552.0 762.6,551.4 764.6,550.7 766.6,550.1 768.6,549.5 770.6,548.9 772.6,548.4 774.6,547.8 776.6,547.3 778.6,546.7 780.6,546.3 782.6,545.8 784.6,545.4 786.6,545.0 788.6,544.7 790.6,544.3 792.6,544.0 794.6,543.7 796.6,543.5 798.6,543.2 800.6,543.0 802.6,542.8 804.6,542.5 806.6,542.3 808.6,542.2 810.6,542.0 812.6,541.8 814.6,541.6 816.6,541.5 818.6,541.3 820.6,541.1 822.6,541.0 824.6,540.8 826.6,540.6 828.6,540.4 830.6,540.2 832.6,539.9 834.6,539.7 836.6,539.3 838.6,539.0 840.6,538.6 842.6,538.1 844.6,537.7 846.6,537.2 848.6,536.7 850.6,536.2 852.6,535.7 854.6,535.1 856.6,534.6 858.6,534.0 860.6,533.4 862.6,532.8 864.6,532.2 866.6,531.5 868.6,530.8 870.6,530.1 872.6,529.4 874.6,528.7 876.6,528.0 878.6,527.3 880.6,526.6 882.6,525.9 884.6,525.2 885.0,524.5 885.0,607.1 884.6,605.7 882.6,604.3 880.6,602.9 878.6,601.4 876.6,599.9 874.6,598.4 872.6,597.0 870.6,595.5 868.6,594.1 866.6,592.7 864.6,591.4 862.6,590.2 860.6,589.1 858.6,588.1 856.6,587.1 854.6,586.3 852.6,585.6 850.6,585.0 848.6,584.4 846.6,583.9 844.6,583.5 842.6,583.2 840.6,582.9 838.6,582.7 836.6,582.5 834.6,582.4 832.6,582.4 830.6,582.4 828.6,582.4 826.6,582.4 824.6,582.5 822.6,582.6 820.6,582.7 818.6,582.8 816.6,582.9 814.6,583.0 812.6,583.1 810.6,583.2 808.6,583.3 806.6,583.4 804.6,583.5 802.6,583.6 800.6,583.7 798.6,583.8 796.6,583.9 794.6,584.1 792.6,584.2 790.6,584.4 788.6,584.6 786.6,584.9 784.6,585.2 782.6,585.7 780.6,586.2 778.6,586.8 776.6,587.5 774.6,588.2 772.6,589.0 770.6,589.9 768.6,590.8 766.6,591.6 764.6,592.6 762.6,593.5 760.6,594.4 758.6,595.3 756.6,596.3 754.6,597.3 752.6,598.3 750.6,599.3 748.6,600.4 746.6,601.4 744.6,602.5 742.6,603.6 740.6,604.7 738.6,605.7 736.6,606.8 734.6,607.9 732.6,608.9 730.6,609.9 728.6,610.8 726.6,611.6 724.6,612.4 722.6,613.1 720.6,613.8 718.6,614.4 716.6,615.0 714.6,615.5 712.6,616.0 710.6,616.5 708.6,617.0 706.6,617.5 704.6,617.9 702.6,618.3 700.6,618.7 698.6,619.1 696.6,619.3 694.6,619.6 692.6,619.8 690.6,620.0 688.6,620.1 686.6,620.2 684.6,620.4 682.6,620.5 680.6,620.6 678.6,620.7 676.6,620.8 674.6,620.9 672.6,621.1 670.6,621.2 668.6,621.3 666.6,621.5 664.6,621.7 662.6,621.9 660.6,622.1 658.6,622.2 656.6,622.4 654.6,622.6 652.6,622.8 650.6,623.0 648.6,623.2 646.6,623.4 644.6,623.6 642.6,623.7 640.6,623.9 638.6,624.0 636.6,624.1 634.6,624.2 632.6,624.4 630.6,624.5 628.6,624.6 626.6,624.7 624.6,624.8 622.6,624.9 620.6,625.1 618.6,625.2 616.6,625.4 614.6,625.6 612.6,625.9 610.6,626.2 608.6,626.5 606.6,626.9 604.6,627.2 602.6,627.6 600.6,628.0 598.6,628.4 596.6,628.8 594.6,629.2 592.6,629.6 590.6,630.0 588.6,630.5 586.6,630.9 584.6,631.4 582.6,631.8 580.6,632.3 578.6,632.8 576.6,633.3 574.6,633.8 572.6,634.3 570.6,634.8 568.6,635.3 566.6,635.8 564.6,636.3 562.6,636.8 560.6,637.3 558.6,637.9 556.6,638.4 554.6,639.0 552.6,639.6 550.6,640.1 548.6,640.7 546.6,641.3 544.6,641.9 542.6,642.5 540.6,643.1 538.6,643.6 536.6,644.1 534.6,644.6 532.6,645.0 530.6,645.3 528.6,645.6 526.6,645.7 524.6,645.8 522.6,645.8 520.6,645.8 518.6,645.6 516.6,645.4 514.6,645.2 512.6,645.0 510.6,644.7 508.6,644.4 506.6,644.1 504.6,643.9 502.6,643.6 500.6,643.3 498.6,643.0 496.6,642.7 494.6,642.4 492.6,642.1 490.6,641.8 488.6,641.5 486.6,641.2 484.6,640.9 482.6,640.6 480.6,640.3 478.6,640.0 476.6,639.7 474.6,639.4 472.6,639.1 470.6,638.8 468.6,638.5 466.6,638.2 464.6,637.9 462.6,637.6 460.6,637.3 458.6,637.0 456.6,636.7 454.6,636.4 452.6,636.1 450.6,635.8 448.6,635.6 446.6,635.3 444.6,635.1 442.6,634.8 440.6,634.6 438.6,634.4 436.6,634.2 434.6,634.0 432.6,633.8 430.6,633.6 428.6,633.4 426.6,633.2 424.6,633.1 422.6,633.0 420.6,632.9 418.6,632.9 416.6,632.9 414.6,632.9 412.6,633.0 410.6,633.1 408.6,633.3 406.6,633.5 404.6,633.6 402.6,633.8 400.6,634.0 398.6,634.1 396.6,634.2 394.6,634.2 392.6,634.1 390.6,634.0 388.6,633.7 386.6,633.4 384.6,632.9 382.6,632.4 380.6,631.8 378.6,631.2 376.6,630.6 374.6,629.9 372.6,629.2 370.6,628.5 368.6,627.8 366.6,627.0 364.6,626.3 362.6,625.6 360.6,624.8 358.6,624.1 356.6,623.4 354.6,622.8 352.6,622.1 350.6,621.6 348.6,621.0 346.6,620.5 344.6,620.1 342.6,619.6 340.6,619.2 338.6,618.8 336.6,618.5 334.6,618.1 332.6,617.8 330.6,617.4 328.6,617.1 326.6,616.8 324.6,616.5 322.6,616.2 320.6,615.9 318.6,615.7 316.6,615.4 314.6,615.1 312.6,614.7 310.6,614.3 308.6,613.9 306.6,613.4 304.6,612.8 302.6,612.2 300.6,611.5 298.6,610.7 296.6,609.9 294.6,609.0 292.6,608.1 290.6,607.2 288.6,606.3 286.6,605.3 284.6,604.2 282.6,603.1 280.6,601.9 278.6,600.7 276.6,599.4 274.6,598.0 272.6,596.5 270.6,594.9 268.6,593.2 266.6,591.4 264.6,589.5 262.6,587.4 260.6,585.2 258.6,582.9 256.6,580.4 254.6,577.8 252.6,575.1 250.6,572.1 248.6,569.1 246.6,565.8 244.6,562.5 242.6,559.0 240.6,555.6 238.6,552.1 236.6,548.8 234.6,545.6 232.6,542.5 230.6,539.6 228.6,536.9 226.6,534.4 224.6,532.1 222.6,529.9 220.6,527.9 218.6,526.0 216.6,524.3 214.6,522.6 212.6,521.0 210.6,519.6 208.6,518.2 206.6,516.8 204.6,515.5 202.6,514.2 200.6,513.0 198.6,511.9 196.6,510.8 194.6,509.7 192.6,508.7 190.6,507.8 188.6,506.9 186.6,506.1 184.6,505.5 182.6,504.9 180.6,504.5 178.6,504.2 176.6,504.0 174.6,503.9 172.6,503.8 170.6,503.9 168.6,504.0 166.6,504.1 164.6,504.4 162.6,504.7 160.6,505.0 158.6,505.5 156.6,506.1 154.6,506.8 152.6,507.6 150.6,508.5 148.6,509.6 146.6,510.7 144.6,512.0 142.6,513.3 140.6,514.7 138.6,516.1 136.6,517.5" fill="#c1565d" stroke="none" fill-opacity="0.26"/>
<polyline points="136.6,475.6 138.6,475.7 140.6,475.8 142.6,475.9 144.6,476.1 146.6,476.3 148.6,476.5 150.6,476.8 152.6,477.1 154.6,477.4 156.6,477.9 158.6,478.4 160.6,478.9 162.6,479.5 164.6,480.2 166.6,481.0 168.6,481.8 170.6,482.7 172.6,483.6 174.6,484.6 176.6,485.7 178.6,486.8 180.6,487.9 182.6,489.2 184.6,490.4 186.6,491.8 188.6,493.1 190.6,494.5 192.6,496.0 194.6,497.4 196.6,498.9 198.6,500.4 200.6,501.9 202.6,503.4 204.6,504.9 206.6,506.5 208.6,508.0 210.6,509.5 212.6,511.1 214.6,512.7 216.6,514.4 218.6,516.1 220.6,517.9 222.6,519.8 224.6,521.8 226.6,523.9 228.6,526.2 230.6,528.6 232.6,531.0 234.6,533.6 236.6,536.3 238.6,539.1 240.6,541.9 242.6,544.8 244.6,547.7 246.6,550.5 248.6,553.4 250.6,556.2 252.6,558.9 254.6,561.5 256.6,564.0 258.6,566.5 260.6,568.8 262.6,571.0 264.6,573.1 266.6,575.1 268.6,577.0 270.6,578.8 272.6,580.5 274.6,582.1 276.6,583.5 278.6,584.9 280.6,586.2 282.6,587.4 284.6,588.5 286.6,589.6 288.6,590.5 290.6,591.5 292.6,592.3 294.6,593.1 296.6,593.9 298.6,594.5 300.6,595.2 302.6,595.7 304.6,596.3 306.6,596.7 308.6,597.2 310.6,597.5 312.6,597.9 314.6,598.2 316.6,598.4 318.6,598.7 320.6,598.9 322.6,599.1 324.6,599.4 326.6,599.6 328.6,599.9 330.6,600.2 332.6,600.5 334.6,600.9 336.6,601.3 338.6,601.8 340.6,602.3 342.6,602.8 344.6,603.4 346.6,603.9 348.6,604.5 350.6,605.1 352.6,605.7 354.6,606.3 356.6,606.9 358.6,607.4 360.6,608.0 362.6,608.5 364.6,609.0 366.6,609.4 368.6,609.8 370.6,610.2 372.6,610.6 374.6,610.9 376.6,611.2 378.6,611.5 380.6,611.7 382.6,611.9 384.6,612.0 386.6,612.1 388.6,612.2 390.6,612.3 392.6,612.3 394.6,612.3 396.6,612.3 398.6,612.3 400.6,612.2 402.6,612.2 404.6,612.1 406.6,612.1 408.6,612.0 410.6,611.9 412.6,611.9 414.6,611.8 416.6,611.8 418.6,611.8 420.6,611.8 422.6,611.9 424.6,611.9 426.6,612.1 428.6,612.2 430.6,612.4 432.6,612.6 434.6,612.8 436.6,613.1 438.6,613.4 440.6,613.7 442.6,614.0 444.6,614.4 446.6,614.7 448.6,615.1 450.6,615.5 452.6,615.9 454.6,616.2 456.6,616.6 458.6,617.0 460.6,617.3 462.6,617.7 464.6,618.0 466.6,618.4 468.6,618.7 470.6,618.9 472.6,619.2 474.6,619.5 476.6,619.7 478.6,619.9 480.6,620.2 482.6,620.4 484.6,620.5 486.6,620.7 488.6,620.9 490.6,621.1 492.6,621.2 494.6,621.4 496.6,621.6 498.6,621.8 500.6,621.9 502.6,622.1 504.6,622.3 506.6,622.4 508.6,622.6 510.6,622.7 512.6,622.9 514.6,623.0 516.6,623.1 518.6,623.2 520.6,623.2 522.6,623.2 524.6,623.2 526.6,623.1 528.6,623.0 530.6,622.8 532.6,622.5 534.6,622.2 536.6,621.8 538.6,621.3 540.6,620.7 542.6,620.1 544.6,619.5 546.6,618.8 548.6,618.1 550.6,617.3 552.6,616.6 554.6,615.9 556.6,615.2 558.6,614.4 560.6,613.8 562.6,613.1 564.6,612.4 566.6,611.7 568.6,611.1 570.6,610.4 572.6,609.8 574.6,609.2 576.6,608.6 578.6,608.1 580.6,607.5 582.6,607.0 584.6,606.5 586.6,606.1 588.6,605.7 590.6,605.3 592.6,604.9 594.6,604.6 596.6,604.3 598.6,604.1 600.6,603.9 602.6,603.7 604.6,603.6 606.6,603.5 608.6,603.4 610.6,603.3 612.6,603.3 614.6,603.2 616.6,603.2 618.6,603.3 620.6,603.3 622.6,603.3 624.6,603.4 626.6,603.4 628.6,603.5 630.6,603.5 632.6,603.6 634.6,603.6 636.6,603.6 638.6,603.6 640.6,603.6 642.6,603.5 644.6,603.5 646.6,603.4 648.6,603.3 650.6,603.2 652.6,603.1 654.6,602.9 656.6,602.8 658.6,602.6 660.6,602.5 662.6,602.3 664.6,602.1 666.6,601.9 668.6,601.7 670.6,601.5 672.6,601.2 674.6,600.9 676.6,600.6 678.6,600.3 680.6,599.9 682.6,599.5 684.6,599.0 686.6,598.5 688.6,598.1 690.6,597.6 692.6,597.1 694.6,596.6 696.6,596.1 698.6,595.6 700.6,595.1 702.6,594.6 704.6,594.2 706.6,593.7 708.6,593.2 710.6,592.6 712.6,592.1 714.6,591.6 716.6,591.0 718.6,590.4 720.6,589.8 722.6,589.2 724.6,588.5 726.6,587.8 728.6,587.1 730.6,586.3 732.6,585.5 734.6,584.7 736.6,583.8 738.6,582.9 740.6,581.9 742.6,581.0 744.6,580.0 746.6,579.0 748.6,578.0 750.6,577.0 752.6,576.1 754.6,575.1 756.6,574.2 758.6,573.3 760.6,572.4 762.6,571.6 764.6,570.8 766.6,570.0 768.6,569.3 770.6,568.6 772.6,567.9 774.6,567.3 776.6,566.7 778.6,566.2 780.6,565.7 782.6,565.2 784.6,564.8 786.6,564.4 788.6,564.0 790.6,563.7 792.6,563.4 794.6,563.1 796.6,562.8 798.6,562.6 800.6,562.4 802.6,562.2 804.6,562.1 806.6,561.9 808.6,561.8 810.6,561.6 812.6,561.5 814.6,561.4 816.6,561.3 818.6,561.2 820.6,561.1 822.6,561.0 824.6,560.9 826.6,560.8 828.6,560.8 830.6,560.7 832.6,560.7 834.6,560.7 836.6,560.7 838.6,560.8 840.6,560.8 842.6,560.9 844.6,561.0 846.6,561.1 848.6,561.2 850.6,561.3 852.6,561.4 854.6,561.6 856.6,561.8 858.6,562.0 860.6,562.1 862.6,562.4 864.6,562.6 866.6,562.8 868.6,563.1 870.6,563.4 872.6,563.7 874.6,564.1 876.6,564.5 878.6,564.8 880.6,565.2 882.6,565.7 884.6,566.1 885.0,566.5" fill="none" stroke="#b01c22" stroke-width="3.2" stroke-linejoin="round" stroke-linecap="round" />
<polyline points="124.0,513.3 126.0,513.7 128.0,514.1 130.0,514.5 132.0,514.9 134.0,515.3 136.0,515.7 138.0,516.0 140.0,516.4 142.0,516.8 144.0,517.2 146.0,517.5 148.0,517.9 150.0,518.2 152.0,518.5 154.0,518.8 156.0,519.2 158.0,519.5 160.0,519.7 162.0,520.0 164.0,520.3 166.0,520.6 168.0,520.9 170.0,521.1 172.0,521.4 174.0,521.7 176.0,522.0 178.0,522.3 180.0,522.6 182.0,522.9 184.0,523.2 186.0,523.5 188.0,523.8 190.0,524.2 192.0,524.5 194.0,524.9 196.0,525.3 198.0,525.6 200.0,526.0 202.0,526.4 204.0,526.8 206.0,527.2 208.0,527.6 210.0,528.1 212.0,528.5 214.0,529.0 216.0,529.4 218.0,529.9 220.0,530.4 222.0,530.9 224.0,531.4 226.0,531.9 228.0,532.5 230.0,533.0 232.0,533.6 234.0,534.1 236.0,534.7 238.0,535.3 240.0,535.9 242.0,536.5 244.0,537.1 246.0,537.8 248.0,538.4 250.0,539.1 252.0,539.8 254.0,540.4 256.0,541.1 258.0,541.8 260.0,542.5 262.0,543.3 264.0,544.0 266.0,544.7 268.0,545.4 270.0,546.2 272.0,546.9 274.0,547.6 276.0,548.4 278.0,549.1 280.0,549.8 282.0,550.5 284.0,551.2 286.0,551.9 288.0,552.6 290.0,553.3 292.0,553.9 294.0,554.6 296.0,555.2 298.0,555.8 300.0,556.4 302.0,557.0 304.0,557.6 306.0,558.2 308.0,558.7 310.0,559.3 312.0,559.8 314.0,560.3 316.0,560.8 318.0,561.3 320.0,561.8 322.0,562.2 324.0,562.7 326.0,563.1 328.0,563.5 330.0,564.0 332.0,564.4 334.0,564.8 336.0,565.2 338.0,565.6 340.0,566.0 342.0,566.4 344.0,566.8 346.0,567.2 348.0,567.6 350.0,568.0 352.0,568.4 354.0,568.8 356.0,569.2 358.0,569.6 360.0,570.0 362.0,570.4 364.0,570.8 366.0,571.1 368.0,571.5 370.0,571.9 372.0,572.3 374.0,572.6 376.0,573.0 378.0,573.3 380.0,573.7 382.0,574.1 384.0,574.4 386.0,574.8 388.0,575.2 390.0,575.6 392.0,576.0 394.0,576.4 396.0,576.8 398.0,577.2 400.0,577.6 402.0,578.1 404.0,578.5 406.0,579.0 408.0,579.5 410.0,579.9 412.0,580.4 414.0,580.9 416.0,581.3 418.0,581.8 420.0,582.2 422.0,582.7 424.0,583.2 426.0,583.6 428.0,584.0 430.0,584.5 432.0,584.9 434.0,585.3 436.0,585.7 438.0,586.1 440.0,586.5 442.0,586.9 444.0,587.2 446.0,587.6 448.0,588.0 450.0,588.3 452.0,588.6 454.0,589.0 456.0,589.3 458.0,589.6 460.0,589.9 462.0,590.2 464.0,590.5 466.0,590.7 468.0,591.0 470.0,591.3 472.0,591.5 474.0,591.8 476.0,592.0 478.0,592.3 480.0,592.5 482.0,592.7 484.0,592.9 486.0,593.2 488.0,593.4 490.0,593.6 492.0,593.8 494.0,594.0 496.0,594.2 498.0,594.4 500.0,594.6 502.0,594.8 504.0,595.0 506.0,595.2 508.0,595.3 510.0,595.5 512.0,595.7 514.0,595.8 516.0,596.0 518.0,596.1 520.0,596.2 522.0,596.3 524.0,596.4 526.0,596.5 528.0,596.5 530.0,596.6 532.0,596.6 534.0,596.6 536.0,596.5 538.0,596.5 540.0,596.4 542.0,596.3 544.0,596.2 546.0,596.1 548.0,596.0 550.0,595.9 552.0,595.8 554.0,595.6 556.0,595.5 558.0,595.3 560.0,595.2 562.0,595.0 564.0,594.9 566.0,594.7 568.0,594.6 570.0,594.4 572.0,594.2 574.0,594.1 576.0,593.9 578.0,593.7 580.0,593.5 582.0,593.4 584.0,593.2 586.0,593.0 588.0,592.8 590.0,592.6 592.0,592.4 594.0,592.3 596.0,592.1 598.0,591.8 600.0,591.6 602.0,591.4 604.0,591.2 606.0,591.0 608.0,590.7 610.0,590.5 612.0,590.2 614.0,589.9 616.0,589.6 618.0,589.3 620.0,589.0 622.0,588.7 624.0,588.4 626.0,588.1 628.0,587.8 630.0,587.4 632.0,587.1 634.0,586.7 636.0,586.4 638.0,586.0 640.0,585.7 642.0,585.3 644.0,585.0 646.0,584.6 648.0,584.3 650.0,583.9 652.0,583.6 654.0,583.2 656.0,582.9 658.0,582.5 660.0,582.2 662.0,581.8 664.0,581.5 666.0,581.1 668.0,580.7 670.0,580.4 672.0,580.0 674.0,579.6 676.0,579.2 678.0,578.9 680.0,578.5 682.0,578.1 684.0,577.7 686.0,577.3 688.0,576.9 690.0,576.6 692.0,576.2 694.0,575.8 696.0,575.4 698.0,575.1 700.0,574.7 702.0,574.3 704.0,574.0 706.0,573.6 708.0,573.3 710.0,572.9 712.0,572.6 714.0,572.3 716.0,571.9 718.0,571.6 720.0,571.3 722.0,571.0 724.0,570.7 726.0,570.4 728.0,570.1 730.0,569.8 732.0,569.5 734.0,569.2 736.0,568.9 738.0,568.6 740.0,568.4 742.0,568.1 744.0,567.8 746.0,567.5 748.0,567.3 750.0,567.0 752.0,566.7 754.0,566.4 756.0,566.1 758.0,565.9 760.0,565.6 762.0,565.3 764.0,565.0 766.0,564.7 768.0,564.4 770.0,564.1 772.0,563.9 774.0,563.6 776.0,563.3 778.0,563.0 780.0,562.8 782.0,562.5 784.0,562.2 786.0,562.0 788.0,561.8 790.0,561.5 792.0,561.3 794.0,561.1 796.0,560.9 798.0,560.6 800.0,560.4 802.0,560.2 804.0,560.1 806.0,559.9 808.0,559.7 810.0,559.5 812.0,559.4 814.0,559.2 816.0,559.0 818.0,558.9 820.0,558.7 822.0,558.6 824.0,558.5 826.0,558.3 828.0,558.2 830.0,558.1 832.0,557.9 834.0,557.8 836.0,557.7 838.0,557.6 840.0,557.5 842.0,557.3 844.0,557.2 846.0,557.1 848.0,557.0 850.0,556.9 852.0,556.9 854.0,556.8 856.0,556.7 858.0,556.6 860.0,556.6 862.0,556.5 864.0,556.4 866.0,556.4 868.0,556.4 870.0,556.3 872.0,556.3 874.0,556.3 876.0,556.2 878.0,556.2 880.0,556.2 882.0,556.2 884.0,556.2 886.0,556.2 888.0,556.2 890.0,556.2 892.0,556.2 894.0,556.2 896.0,556.2 898.0,556.2 899.8,556.2" fill="none" stroke="#1a5094" stroke-width="3.3" stroke-linejoin="round" stroke-linecap="round" stroke-dasharray="14,13.5" stroke-linecap="butt"/>
<rect x="97" y="637.7" width="17.4" height="16.9" fill="#e0a3a7"/>
<line x1="97.00" y1="646.20" x2="114.40" y2="646.20" stroke="#b01e24" stroke-width="1.6" />
<rect x="97" y="668.3" width="17.4" height="17.2" fill="#c2c2c2"/>
<line x1="97.00" y1="676.80" x2="114.40" y2="676.80" stroke="#5f5f5f" stroke-width="1.8" />
<line x1="97.00" y1="704.80" x2="114.40" y2="704.80" stroke="#1a5094" stroke-width="1.6" />
<text x="120" y="652" font-size="20" fill="#ae1f24" stroke="#ae1f24">δ<tspan baseline-shift="7" font-size="12.5">15</tspan><tspan baseline-shift="-7" font-size="0.1">​</tspan>N<tspan baseline-shift="-5.5" font-size="12.5">NO3</tspan> reconstruction</text>
<text x="117.88" y="681.2" font-size="20" fill="#666666" stroke="#666666" transform="scale(1.018,1)">Ice density reconstruction</text>
<text x="118.70" y="709.3" font-size="20" fill="#1a5094" stroke="#1a5094" transform="scale(1.016,1)">Upstream GPR reconstruction</text>
<polygon points="152.7,898.0 163.3,892.7 179.3,894.0 190.0,888.7 200.7,892.7 206.0,884.7 216.7,890.0 227.3,900.7 235.3,903.3 238.0,920.7 248.7,927.3 258.0,930.0 262.0,951.3 274.0,960.7 290.0,954.0 306.0,956.7 327.3,946.0 343.3,948.7 364.7,943.3 378.0,938.0 388.7,943.3 400.0,954.0 403.3,949.2 424.7,954.0 443.3,943.3 459.3,934.0 475.3,930.0 490.0,924.7 502.0,935.3 510.0,951.3 528.7,955.3 538.0,964.7 546.0,958.0 562.0,948.7 578.0,943.3 607.3,942.0 626.0,951.3 642.0,947.3 658.0,954.0 674.0,958.0 686.0,960.7 704.7,956.7 723.3,947.3 740.7,940.7 758.0,927.3 771.3,924.7 784.7,930.0 798.0,931.3 806.7,926.0 820.0,934.0 828.0,927.3 844.0,929.5 857.3,934.0 865.3,930.0 872.8,931.3 872.8,999.3 860.0,1003.3 848.0,1007.3 838.7,995.3 822.7,988.7 808.7,983.3 790.0,986.0 776.7,991.3 758.0,992.7 739.3,996.7 720.7,999.3 702.0,1004.7 686.0,1010.0 680.0,1006.0 663.3,1002.0 647.3,999.3 639.3,986.0 623.3,991.3 610.0,988.7 599.3,994.0 583.3,994.0 570.0,999.3 559.3,1016.7 546.0,1019.3 530.0,1023.3 523.3,1028.7 510.0,1028.7 496.7,1023.3 480.7,1030.0 459.3,1026.0 438.0,1020.7 424.7,1004.7 400.7,1019.3 394.0,1035.3 378.0,1028.7 362.0,1026.0 346.0,1030.0 330.0,1024.7 314.0,1020.7 298.0,1022.0 282.0,1026.0 266.0,1023.3 254.0,1023.3 243.3,1019.3 232.7,1019.3 222.0,1011.3 211.3,1004.7 195.3,999.3 184.7,994.0 174.0,988.7 163.3,991.3 152.7,1003.3" fill="#f9d7d7" stroke="none" />
<path d="M124.7,966.3H126.0V1011.3H127.3V1023.3H128.1V904.9H130.3V996.3H131.3V984.3H132.1V1038.3H134.8V939.3H136.1V903.4H138.3V927.4H139.9V1002.3H142.0V1002.3H143.3V853.8H144.9V972.2H146.0V936.1H147.9V969.1H149.2V945.0H151.3V950.9H153.2V883.3H155.9V824.7H157.5V956.5H158.5V1029.9H160.7V959.3H162.0V983.2H163.3V935.1H165.2V947.0H166.8V955.8H168.7V858.2H171.3V982.4H173.2V1000.2H175.3V958.0H178.0V957.8H180.7V921.5H182.5V972.3H184.7V945.0H186.3V874.4H188.9V890.5H190.5V896.3H192.7V932.1H194.3V955.8H195.9V940.6H198.0V949.4H200.7V976.0H202.3V1011.7H204.7V906.4H206.5V921.2H208.7V932.8H209.5V777.4H211.3V1029.9H213.5V971.1H215.3V940.8H216.3V892.7H218.2V988.3H220.3V991.0H222.2V1011.7H224.3V966.4H225.7V930.1H227.0V983.9H228.9V962.6H230.5V809.4H233.1V952.9H235.0V958.5H236.9V991.2H238.5V957.9H240.3V1002.6H243.0V960.1H244.9V962.8H247.0V977.4H248.3V1001.1H251.0V1030.6H253.1V1012.2H255.0V975.9H257.7V894.4H259.8V972.0H261.7V974.6H263.8V980.2H265.7V997.8H267.8V1003.4H269.7V1015.0H271.5V1026.7H273.7V1008.3H275.3V996.0H277.7V974.5H279.5V1007.1H281.7V1039.7H284.3V947.7H287.5V963.5H289.1V993.2H291.0V1025.8H293.7V995.3H295.0V1022.0H297.7V1009.5H299.8V1012.1H301.7V1005.7H303.8V952.8H307.0V920.7H310.2V935.0H311.8V949.7H313.3V952.4H314.7V979.1H316.8V936.7H319.5V963.2H321.3V962.8H322.7V1001.6H324.8V1004.1H326.7V1039.8H328.5V1012.4H330.7V1030.0H332.5V1011.6H334.1V990.3H336.0V930.0H338.1V1019.6H339.5V989.3H341.3V1040.0H344.0V964.5H346.7V962.5H349.3V963.5H351.5V996.1H353.3V986.7H356.0V962.3H357.3V941.0H359.5V934.6H361.3V934.3H363.5V942.9H365.3V917.1H368.0V987.1H370.1V1031.7H372.0V1052.4H374.1V1068.5H376.5V1015.6H378.1V997.4H380.0V991.1H381.9V942.8H384.0V966.4H386.1V996.1H388.0V1012.3H389.9V1052.4H392.5V1010.0H394.7V964.7H396.8V953.9H400.8V966.8H402.7V1002.5H404.8V1005.2H406.7V1001.9H409.0V1001.6H410.3M418.3,1016.8H422.3V963.8H423.7V962.1H426.3V942.3H428.2V931.5H432.5M435.7,956.1H440.5V996.1H443.1M447.7,969.8H449.0V959.2H451.1V972.5H453.0V987.3H454.3V1020.1H456.5V1028.9H459.1V1049.7H462.3V1004.4H464.5V992.2H466.3V989.1H467.7V905.0H473.0V940.6H475.1V985.4H477.8V961.2H479.7V961.1H481.5V868.0H485.0V978.7H486.9V987.6H489.0V1010.0H491.1V1023.4H493.0V1024.8H494.9V1026.2H499.7V1010.9H502.3V986.8H504.5V907.3H506.8V907.2H508.7V929.6H510.5V992.5H512.7V1000.0H518.0V968.3H523.3V1014.7H526.8V998.1H528.7V992.1H530.5V995.1H531.3V1010.1H534.0V1016.1H536.7V1019.1H539.3V1034.1H542.0V1040.1H548.1V1010.1H550.8V1010.2H554.0V980.2H555.3V965.2H558.0V965.3H560.7V939.9H564.1M568.7,946.1H572.7V971.7H574.8V953.8H578.0V992.9H580.1V1008.0H583.3V975.2H586.0V927.3H590.8V936.6H595.3V984.8H600.7V994.2H603.0V985.3H605.1V997.5H607.0V1003.6H610.5V945.4H613.7V965.1H615.8V933.8H619.8V968.6H622.2V979.3H626.5V948.2H629.7V951.4H631.8V971.1H642.5V979.6H646.2V963.5H651.0V971.5H653.7V1001.8H657.1V981.2H659.0V972.4H661.1V966.6H663.8V927.9H667.0V985.2H669.1V1015.5H671.8V1023.3H675.0V992.2H677.7V956.5H680.9V994.3H687.0V963.6H689.7V975.9H691.8V982.2H695.0V1021.5H697.7V994.9H700.0V998.2H702.1V986.4H704.0V1003.2H707.5V975.1H710.1V942.4H713.3V953.3H718.7V970.5H720.0M730.7,990.0H732.5V981.2H734.7V972.5H736.8V963.7H738.7M744.0,1000.6H748.0V914.1H752.5V962.6H754.7V974.9H756.5V1009.6H760.0V966.5H764.0V972.9H766.1V913.2H769.3V985.5H771.5V1000.7H776.0V944.2H778.7V998.4H782.1V911.8H784.0V907.5H788.0V972.3H790.7V965.1H793.9V926.4H797.0V924.9H798.3V978.9H808.2V973.7H809.8V940.8H813.5V944.1H815.6V959.2H817.0V971.2H819.6V965.4H823.6V989.5H825.8V998.6H829.0V899.9H833.0V945.0H836.9V1002.0H839.6V954.2H841.7V978.2H845.5V946.8H850.8V892.9H854.3V945.3H855.6V960.2H857.7V969.2H859.6V954.2H861.4V1021.5H864.9V969.0H872.1V992.7H874.2V1049.5H877.7V981.9H880.9V954.7H884.9V951.5H888.1V932.0H895.0V958.9H896.9V973.9H899.0V982.9H899.8" fill="none" stroke="#ee6a4e" stroke-width="1.6"/>
<polyline points="152.1,951.9 163.3,942.0 168.1,940.1 179.9,944.7 185.2,946.5 190.0,940.1 196.7,947.3 205.5,940.7 216.7,951.3 227.3,959.3 233.2,958.8 240.7,967.3 248.7,974.0 259.3,986.0 267.3,990.0 275.3,996.1 282.0,989.2 290.0,988.1 299.3,983.3 306.0,986.0 310.8,982.8 315.3,989.2 323.3,984.7 331.3,979.3 338.0,977.5 342.0,980.7 348.7,988.7 355.3,988.1 360.7,980.7 366.0,987.3 372.7,982.0 380.7,983.3 388.7,991.3 395.3,999.9 406.0,983.3 414.0,984.7 420.7,977.5 430.0,983.3 438.0,987.3 447.3,978.0 458.0,975.9 467.3,982.0 475.3,986.0 483.3,978.0 492.7,970.0 504.7,980.7 512.7,991.3 520.7,993.5 530.0,990.8 536.7,994.5 543.3,990.0 554.0,988.1 562.0,980.7 570.0,973.2 576.7,967.3 584.7,968.7 592.7,967.3 602.0,966.8 610.0,963.9 618.0,968.7 628.7,968.7 639.3,966.8 647.3,975.3 658.0,979.3 668.7,982.0 679.3,987.3 688.7,983.3 702.0,979.3 710.0,980.7 720.7,980.7 726.0,972.1 734.0,970.0 742.0,969.5 747.3,972.7 755.3,972.7 762.0,963.3 771.3,959.3 778.0,963.3 787.3,958.8 798.0,960.7 806.0,956.1 814.0,963.3 822.7,963.3 829.3,958.0 834.7,956.1 842.7,961.5 849.3,967.3 853.3,966.0 860.0,970.0 865.3,966.8 872.0,966.5" fill="none" stroke="#a81d23" stroke-width="3.6" stroke-linejoin="round" stroke-linecap="round" />
<line x1="84.20" y1="50.20" x2="84.20" y2="364.60" stroke="#333333" stroke-width="1.6" />
<line x1="904.30" y1="50.20" x2="904.30" y2="364.60" stroke="#333333" stroke-width="1.6" />
<line x1="84.20" y1="55.40" x2="904.30" y2="55.40" stroke="#484848" stroke-width="1.6" />
<line x1="84.20" y1="363.80" x2="904.30" y2="363.80" stroke="#484848" stroke-width="1.6" />
<line x1="121.30" y1="50.20" x2="121.30" y2="55.10" stroke="#333333" stroke-width="1.6" />
<line x1="233.10" y1="50.20" x2="233.10" y2="55.10" stroke="#333333" stroke-width="1.6" />
<line x1="344.90" y1="50.20" x2="344.90" y2="55.10" stroke="#333333" stroke-width="1.6" />
<line x1="456.70" y1="50.20" x2="456.70" y2="55.10" stroke="#333333" stroke-width="1.6" />
<line x1="568.50" y1="50.20" x2="568.50" y2="55.10" stroke="#333333" stroke-width="1.6" />
<line x1="680.30" y1="50.20" x2="680.30" y2="55.10" stroke="#333333" stroke-width="1.6" />
<line x1="792.10" y1="50.20" x2="792.10" y2="55.10" stroke="#333333" stroke-width="1.6" />
<line x1="903.90" y1="50.20" x2="903.90" y2="55.10" stroke="#333333" stroke-width="1.6" />
<text x="130.30" y="43.40" font-size="25.5" text-anchor="middle" fill="#4d4d4d" stroke="#4d4d4d" font-weight="normal" transform="scale(0.934,1)" >2000</text>
<text x="369.70" y="43.40" font-size="25.5" text-anchor="middle" fill="#4d4d4d" stroke="#4d4d4d" font-weight="normal" transform="scale(0.934,1)" >1800</text>
<text x="609.10" y="43.40" font-size="25.5" text-anchor="middle" fill="#4d4d4d" stroke="#4d4d4d" font-weight="normal" transform="scale(0.934,1)" >1600</text>
<text x="848.50" y="43.40" font-size="25.5" text-anchor="middle" fill="#4d4d4d" stroke="#4d4d4d" font-weight="normal" transform="scale(0.934,1)" >1400</text>
<text x="529.48" y="20.60" font-size="30" text-anchor="middle" fill="#4d4d4d" stroke="#4d4d4d" font-weight="normal" transform="scale(0.96,1)" >Year CE</text>
<line x1="177.30" y1="363.80" x2="177.30" y2="368.50" stroke="#333333" stroke-width="1.6" />
<line x1="289.13" y1="363.80" x2="289.13" y2="368.50" stroke="#333333" stroke-width="1.6" />
<line x1="400.96" y1="363.80" x2="400.96" y2="368.50" stroke="#333333" stroke-width="1.6" />
<line x1="512.79" y1="363.80" x2="512.79" y2="368.50" stroke="#333333" stroke-width="1.6" />
<line x1="624.62" y1="363.80" x2="624.62" y2="368.50" stroke="#333333" stroke-width="1.6" />
<line x1="736.45" y1="363.80" x2="736.45" y2="368.50" stroke="#333333" stroke-width="1.6" />
<line x1="848.28" y1="363.80" x2="848.28" y2="368.50" stroke="#333333" stroke-width="1.6" />
<text x="190.26" y="389.90" font-size="25.5" text-anchor="middle" fill="#4d4d4d" stroke="#4d4d4d" font-weight="normal" transform="scale(0.934,1)" >0</text>
<text x="429.72" y="389.90" font-size="25.5" text-anchor="middle" fill="#4d4d4d" stroke="#4d4d4d" font-weight="normal" transform="scale(0.934,1)" >200</text>
<text x="669.19" y="389.90" font-size="25.5" text-anchor="middle" fill="#4d4d4d" stroke="#4d4d4d" font-weight="normal" transform="scale(0.934,1)" >400</text>
<text x="908.65" y="389.90" font-size="25.5" text-anchor="middle" fill="#4d4d4d" stroke="#4d4d4d" font-weight="normal" transform="scale(0.934,1)" >600</text>
<text x="523.20" y="405.90" font-size="30" text-anchor="middle" fill="#4d4d4d" stroke="#4d4d4d" font-weight="normal" transform="scale(0.97,1)" >Year BP</text>
<line x1="79.20" y1="77.65" x2="84.20" y2="77.65" stroke="#333333" stroke-width="1.6" />
<text x="81.16" y="84.65" font-size="25.5" text-anchor="end" fill="#4d4d4d" stroke="#4d4d4d" font-weight="normal" transform="scale(0.934,1)" >200</text>
<line x1="79.20" y1="167.50" x2="84.20" y2="167.50" stroke="#333333" stroke-width="1.6" />
<text x="81.16" y="174.50" font-size="25.5" text-anchor="end" fill="#4d4d4d" stroke="#4d4d4d" font-weight="normal" transform="scale(0.934,1)" >150</text>
<line x1="79.20" y1="257.35" x2="84.20" y2="257.35" stroke="#333333" stroke-width="1.6" />
<text x="81.16" y="264.35" font-size="25.5" text-anchor="end" fill="#4d4d4d" stroke="#4d4d4d" font-weight="normal" transform="scale(0.934,1)" >100</text>
<line x1="79.20" y1="347.20" x2="84.20" y2="347.20" stroke="#333333" stroke-width="1.6" />
<text x="81.16" y="354.20" font-size="25.5" text-anchor="end" fill="#4d4d4d" stroke="#4d4d4d" font-weight="normal" transform="scale(0.934,1)" >50</text>
<line x1="904.30" y1="141.00" x2="908.90" y2="141.00" stroke="#333333" stroke-width="1.6" />
<text x="974.73" y="146.60" font-size="25.5" text-anchor="start" fill="#4d4d4d" stroke="#4d4d4d" font-weight="normal" transform="scale(0.934,1)" >25</text>
<line x1="904.30" y1="247.90" x2="908.90" y2="247.90" stroke="#333333" stroke-width="1.6" />
<text x="974.73" y="253.50" font-size="25.5" text-anchor="start" fill="#4d4d4d" stroke="#4d4d4d" font-weight="normal" transform="scale(0.934,1)" >50</text>
<line x1="904.30" y1="325.60" x2="908.90" y2="325.60" stroke="#333333" stroke-width="1.6" />
<text x="974.73" y="331.20" font-size="25.5" text-anchor="start" fill="#4d4d4d" stroke="#4d4d4d" font-weight="normal" transform="scale(0.934,1)" >100</text>
<line x1="904.30" y1="356.70" x2="908.90" y2="356.70" stroke="#333333" stroke-width="1.6" />
<text x="974.73" y="362.30" font-size="25.5" text-anchor="start" fill="#4d4d4d" stroke="#4d4d4d" font-weight="normal" transform="scale(0.934,1)" >150</text>
<line x1="85.10" y1="408.10" x2="85.10" y2="716.60" stroke="#444444" stroke-width="1.6" />
<line x1="84.30" y1="715.80" x2="904.80" y2="715.80" stroke="#484848" stroke-width="1.6" />
<line x1="80.30" y1="427.80" x2="85.10" y2="427.80" stroke="#444444" stroke-width="1.6" />
<text x="81.16" y="434.20" font-size="25.5" text-anchor="end" fill="#4d4d4d" stroke="#4d4d4d" font-weight="normal" transform="scale(0.934,1)" >150</text>
<line x1="80.30" y1="501.85" x2="85.10" y2="501.85" stroke="#444444" stroke-width="1.6" />
<text x="81.16" y="508.25" font-size="25.5" text-anchor="end" fill="#4d4d4d" stroke="#4d4d4d" font-weight="normal" transform="scale(0.934,1)" >125</text>
<line x1="80.30" y1="575.90" x2="85.10" y2="575.90" stroke="#444444" stroke-width="1.6" />
<text x="81.16" y="582.30" font-size="25.5" text-anchor="end" fill="#4d4d4d" stroke="#4d4d4d" font-weight="normal" transform="scale(0.934,1)" >100</text>
<line x1="80.30" y1="649.95" x2="85.10" y2="649.95" stroke="#444444" stroke-width="1.6" />
<text x="81.16" y="656.35" font-size="25.5" text-anchor="end" fill="#4d4d4d" stroke="#4d4d4d" font-weight="normal" transform="scale(0.934,1)" >75</text>
<line x1="176.50" y1="715.80" x2="176.50" y2="720.50" stroke="#444444" stroke-width="1.6" />
<line x1="288.30" y1="715.80" x2="288.30" y2="720.50" stroke="#444444" stroke-width="1.6" />
<line x1="400.10" y1="715.80" x2="400.10" y2="720.50" stroke="#444444" stroke-width="1.6" />
<line x1="511.90" y1="715.80" x2="511.90" y2="720.50" stroke="#444444" stroke-width="1.6" />
<line x1="623.70" y1="715.80" x2="623.70" y2="720.50" stroke="#444444" stroke-width="1.6" />
<line x1="735.50" y1="715.80" x2="735.50" y2="720.50" stroke="#444444" stroke-width="1.6" />
<line x1="847.30" y1="715.80" x2="847.30" y2="720.50" stroke="#444444" stroke-width="1.6" />
<text x="189.40" y="741.90" font-size="25.5" text-anchor="middle" fill="#4d4d4d" stroke="#4d4d4d" font-weight="normal" transform="scale(0.934,1)" >0</text>
<text x="428.80" y="741.90" font-size="25.5" text-anchor="middle" fill="#4d4d4d" stroke="#4d4d4d" font-weight="normal" transform="scale(0.934,1)" >200</text>
<text x="668.20" y="741.90" font-size="25.5" text-anchor="middle" fill="#4d4d4d" stroke="#4d4d4d" font-weight="normal" transform="scale(0.934,1)" >400</text>
<text x="907.60" y="741.90" font-size="25.5" text-anchor="middle" fill="#4d4d4d" stroke="#4d4d4d" font-weight="normal" transform="scale(0.934,1)" >600</text>
<text x="523.20" y="758.30" font-size="30" text-anchor="middle" fill="#4d4d4d" stroke="#4d4d4d" font-weight="normal" transform="scale(0.97,1)" >Year BP</text>
<line x1="84.20" y1="764.50" x2="84.20" y2="1073.00" stroke="#2e2e2e" stroke-width="1.6" />
<line x1="83.40" y1="1072.20" x2="904.80" y2="1072.20" stroke="#484848" stroke-width="1.6" />
<line x1="79.20" y1="769.10" x2="84.20" y2="769.10" stroke="#2e2e2e" stroke-width="1.6" />
<text x="79.23" y="775.90" font-size="25.5" text-anchor="end" fill="#4d4d4d" stroke="#4d4d4d" font-weight="normal" transform="scale(0.934,1)" >100</text>
<line x1="79.20" y1="870.15" x2="84.20" y2="870.15" stroke="#2e2e2e" stroke-width="1.6" />
<text x="79.23" y="876.95" font-size="25.5" text-anchor="end" fill="#4d4d4d" stroke="#4d4d4d" font-weight="normal" transform="scale(0.934,1)" >50</text>
<line x1="79.20" y1="971.20" x2="84.20" y2="971.20" stroke="#2e2e2e" stroke-width="1.6" />
<text x="79.23" y="978.00" font-size="25.5" text-anchor="end" fill="#4d4d4d" stroke="#4d4d4d" font-weight="normal" transform="scale(0.934,1)" >0</text>
<line x1="79.20" y1="1072.25" x2="84.20" y2="1072.25" stroke="#2e2e2e" stroke-width="1.6" />
<text x="79.23" y="1079.05" font-size="25.5" text-anchor="end" fill="#4d4d4d" stroke="#4d4d4d" font-weight="normal" transform="scale(0.934,1)" >-50</text>
<line x1="84.20" y1="971.20" x2="904.80" y2="971.20" stroke="#444" stroke-width="1.4" stroke-dasharray="7,7" stroke-dashoffset="1"/>
<line x1="175.90" y1="1072.20" x2="175.90" y2="1076.90" stroke="#2e2e2e" stroke-width="1.6" />
<line x1="287.67" y1="1072.20" x2="287.67" y2="1076.90" stroke="#2e2e2e" stroke-width="1.6" />
<line x1="399.44" y1="1072.20" x2="399.44" y2="1076.90" stroke="#2e2e2e" stroke-width="1.6" />
<line x1="511.21" y1="1072.20" x2="511.21" y2="1076.90" stroke="#2e2e2e" stroke-width="1.6" />
<line x1="622.98" y1="1072.20" x2="622.98" y2="1076.90" stroke="#2e2e2e" stroke-width="1.6" />
<line x1="734.75" y1="1072.20" x2="734.75" y2="1076.90" stroke="#2e2e2e" stroke-width="1.6" />
<line x1="846.52" y1="1072.20" x2="846.52" y2="1076.90" stroke="#2e2e2e" stroke-width="1.6" />
<text x="188.76" y="1098.80" font-size="25.5" text-anchor="middle" fill="#4d4d4d" stroke="#4d4d4d" font-weight="normal" transform="scale(0.934,1)" >0</text>
<text x="428.09" y="1098.80" font-size="25.5" text-anchor="middle" fill="#4d4d4d" stroke="#4d4d4d" font-weight="normal" transform="scale(0.934,1)" >200</text>
<text x="667.43" y="1098.80" font-size="25.5" text-anchor="middle" fill="#4d4d4d" stroke="#4d4d4d" font-weight="normal" transform="scale(0.934,1)" >400</text>
<text x="906.77" y="1098.80" font-size="25.5" text-anchor="middle" fill="#4d4d4d" stroke="#4d4d4d" font-weight="normal" transform="scale(0.934,1)" >600</text>
<text x="522.68" y="1124.60" font-size="30" text-anchor="middle" fill="#4d4d4d" stroke="#4d4d4d" font-weight="normal" transform="scale(0.97,1)" >Year BP</text>
<text x="0" y="0" font-size="33" text-anchor="middle" fill="#4d4d4d" stroke="#4d4d4d" transform="translate(24.2,217.7) rotate(-90) scale(0.992,1)">SMB (kg m<tspan baseline-shift="10.8" font-size="56%">-2</tspan> a<tspan baseline-shift="10.8" font-size="56%">-1</tspan>)</text>
<text x="0" y="0" font-size="33" text-anchor="middle" fill="#4d4d4d" stroke="#4d4d4d" transform="translate(24.3,556.3) rotate(-90) scale(0.992,1)">SMB (kg m<tspan baseline-shift="10.8" font-size="56%">-2</tspan> a<tspan baseline-shift="10.8" font-size="56%">-1</tspan>)</text>
<text x="0" y="0" font-size="33" text-anchor="middle" fill="#4d4d4d" stroke="#4d4d4d" transform="translate(24.3,916.5) rotate(-90) scale(0.9915,1)">SMB residual (kg m<tspan baseline-shift="10.8" font-size="56%">-2</tspan> a<tspan baseline-shift="10.8" font-size="56%">-1</tspan>)</text>
<text x="0" y="0" font-size="32" text-anchor="middle" fill="#4d4d4d" stroke="#4d4d4d" transform="translate(972.5,215) rotate(90) scale(1.02,1)"><tspan font-style="italic">δ</tspan><tspan baseline-shift="10.5" font-size="19.9">15</tspan>N<tspan baseline-shift="-8" font-size="18.4">NO3arc</tspan> (‰ vs. N<tspan baseline-shift="-8" font-size="18.4">2</tspan>-Air)</text>
<text x="257.31" y="91.4" font-size="29.5" fill="#ae1f24" stroke="#ae1f24" transform="scale(0.965,1)"><tspan font-weight="bold">a</tspan><tspan dx="3"> </tspan>SMB<tspan baseline-shift="-5.3" font-size="19.5">δ<tspan baseline-shift="6.2" font-size="12">15</tspan><tspan baseline-shift="-6.2" font-size="1">​</tspan>N</tspan> reconstruction at Aurora Basin North</text>
<text x="257.31" y="452.8" font-size="29.5" fill="#ae1f24" stroke="#ae1f24" transform="scale(0.965,1)"><tspan font-weight="bold">b</tspan><tspan dx="3"> </tspan>Comparison of different SMB reconstructions</text>
<text x="257.31" y="804.3" font-size="29.5" fill="#ae1f24" stroke="#ae1f24" transform="scale(0.965,1)"><tspan font-weight="bold">c</tspan><tspan dx="3"> </tspan>SMB<tspan baseline-shift="-5.3" font-size="19.5">δ<tspan baseline-shift="6.2" font-size="12">15</tspan><tspan baseline-shift="-6.2" font-size="1">​</tspan>N</tspan> detrended for upstream SMB effects</text>
</svg></body></html>
